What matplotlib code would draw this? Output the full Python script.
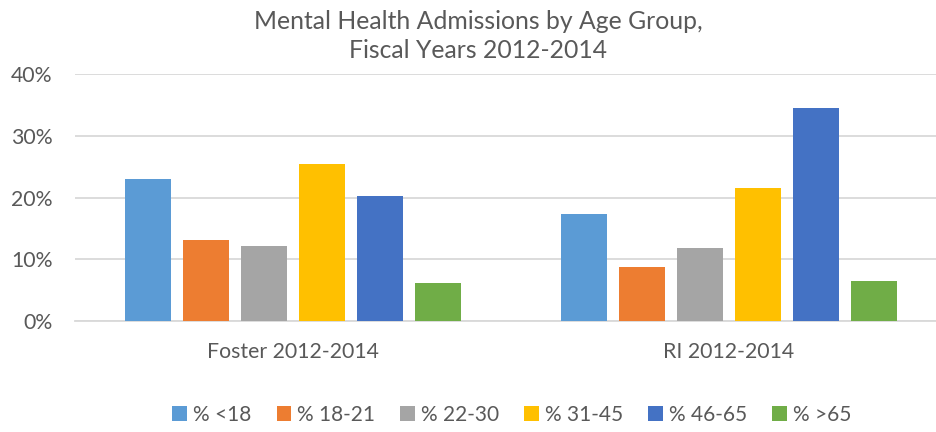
import numpy as np
import matplotlib.pyplot as plt

plt.rcParams['font.family'] = ['Lato', 'DejaVu Sans']

groups = ['Foster 2012-2014', 'RI 2012-2014']
ages = ['% <18', '% 18-21', '% 22-30', '% 31-45', '% 46-65', '% >65']
foster = [23.0, 13.1, 12.1, 25.5, 20.3, 6.1]
ri = [17.3, 8.7, 11.8, 21.6, 34.5, 6.4]
colors = ['#5B9BD5', '#ED7D31', '#A5A5A5', '#FFC000', '#4472C4', '#70AD47']

txt = '#595959'
fig = plt.figure(figsize=(9.37, 4.32), dpi=100)
ax = fig.add_axes([75/937, 1 - 321/432, 862/937, 247/432])

x = np.arange(len(groups))
step = 0.133
for i, lab in enumerate(ages):
    vals = [foster[i], ri[i]]
    ax.bar(x + (i - 2.5) * step, vals, width=0.1055, color=colors[i], label=lab, zorder=3)

ax.set_xlim(-0.5, 1.477)
ax.set_ylim(0, 40)
ax.set_yticks([0, 10, 20, 30, 40])
ax.set_yticklabels(['0%', '10%', '20%', '30%', '40%'])
ax.set_xticks(x)
ax.set_xticklabels(groups)
ax.grid(axis='y', color='#D9D9D9', linewidth=1.3, zorder=0)
for s in ['top', 'right', 'left']:
    ax.spines[s].set_visible(False)
ax.spines['bottom'].set_color('#D9D9D9')
ax.spines['bottom'].set_linewidth(1.3)
ax.tick_params(axis='both', length=0, labelsize=15.3, colors=txt)
ax.tick_params(axis='x', pad=15)
ax.tick_params(axis='y', pad=16)

fig.text(478/937, 1 - 36/432, 'Mental Health Admissions by Age Group,\nFiscal Years 2012-2014',
         ha='center', va='center', fontsize=17.8, color=txt, linespacing=1.3)

fig.legend(loc='center', bbox_to_anchor=(512/937, 1 - 415/432), ncol=6, frameon=False,
           fontsize=15.0, labelcolor=txt, handlelength=0.7, handleheight=0.7,
           handletextpad=0.3, columnspacing=1.2)

fig.savefig('out.png', dpi=100)
